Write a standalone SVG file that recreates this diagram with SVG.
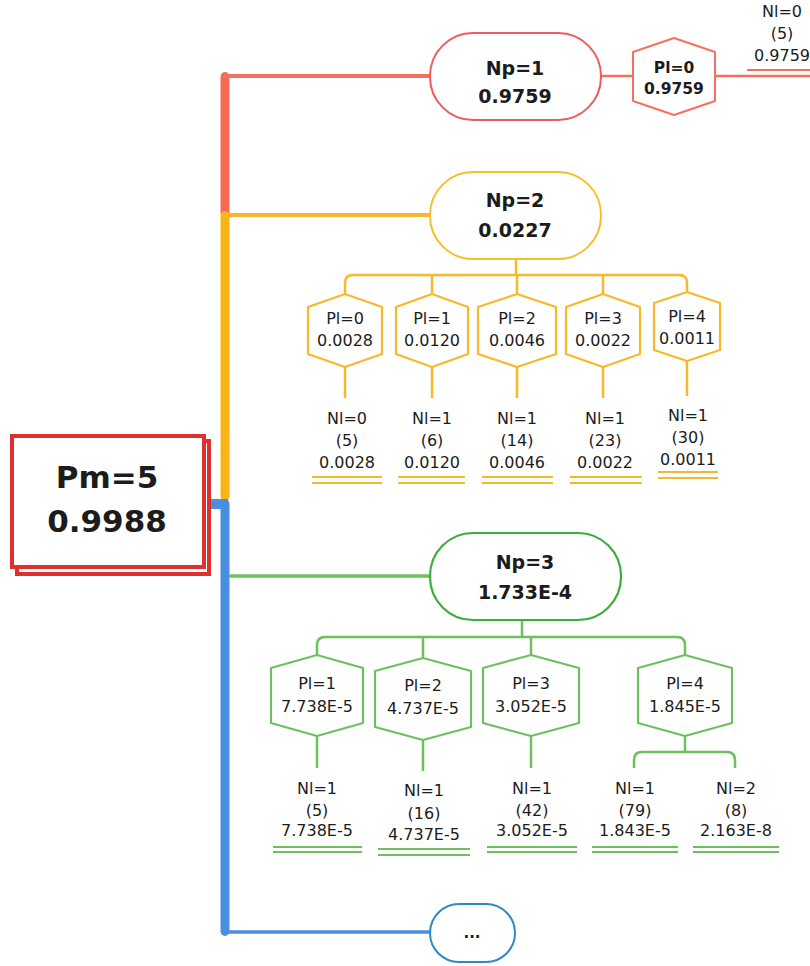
<svg xmlns="http://www.w3.org/2000/svg" width="810" height="966" viewBox="0 0 810 966">
<style>
text{font-family:"DejaVu Sans","Liberation Sans",sans-serif;fill:#1c1c1c;text-anchor:middle}
.b{font-weight:bold;font-size:19px}
.hb{font-weight:bold;font-size:15.5px}
.r{font-size:16px}
.big{font-weight:bold;font-size:31px}
.red{stroke:#f47060;fill:none}
.yel{stroke:#f8b82a;fill:none}
.grn{stroke:#6cc05e;fill:none}
.blu{stroke:#4a8ee0;fill:none}
.nodeR{fill:#fff;stroke:#ec5b5e;stroke-width:2}
.nodeY{fill:#fff;stroke:#f5bf2c;stroke-width:2}
.nodeG{fill:#fff;stroke:#3cae3a;stroke-width:2.2}
.hexR{fill:#fff;stroke:#f47060;stroke-width:2;stroke-linejoin:round}
.hexY{fill:#fff;stroke:#f8b82a;stroke-width:2.2;stroke-linejoin:round}
.hexG{fill:#fff;stroke:#6cc05e;stroke-width:2.2;stroke-linejoin:round}
.ul{stroke-width:2.2}
</style>

<g id="connectors">
  <!-- spine -->
  <rect x="220.5" y="72" width="9" height="146" rx="5" fill="#f76b55"/>
  <path class="red" stroke-width="4" d="M224,76 H431"/>
  <rect x="220.5" y="211" width="9" height="290" rx="5" fill="#fbb416"/>
  <path class="yel" stroke-width="4" d="M224,215 H431"/>
  <rect x="220.5" y="499" width="9" height="437" rx="5" fill="#4a8ee0"/>
  <rect x="206" y="499" width="22" height="10" fill="#4a8ee0"/>
  <path class="blu" stroke-width="3.5" d="M224,932 H431"/>
  <path class="grn" stroke-width="3.5" d="M229,576 H431"/>

  <!-- red branch -->
  <path class="red" stroke-width="2.5" d="M601,76 H633 M715,76 H810"/>
  <path class="red ul" d="M747,70 H810"/>

  <!-- yellow branch -->
  <path class="yel" stroke-width="2.5" d="M516,259 V275 M345,294 V283 Q345,275 353,275 H679 Q687,275 687,283 V292 M432,275 V294 M517,275 V294 M603,275 V294"/>
  <path class="yel" stroke-width="2.5" d="M345,367 V398 M432,367 V398 M517,367 V398 M603,367 V398 M687,361 V396"/>
  <path class="yel ul" d="M312,477 H382 M312,483 H382 M398,477 H465 M398,483 H465 M482,477 H553 M482,483 H553 M570,477 H642 M570,483 H642 M658,472 H718 M658,478 H718"/>

  <!-- green branch -->
  <path class="grn" stroke-width="2.5" d="M522,620 V637 M317,655 V645 Q317,637 325,637 H677 Q685,637 685,645 V655 M423,637 V658 M531,637 V655"/>
  <path class="grn" stroke-width="2.5" d="M317,736 V768 M423,740 V771 M531,736 V768 M685,736 V752 M634,768 V760 Q634,752 642,752 H727 Q735,752 735,760 V768"/>
  <path class="grn ul" d="M273,847 H362 M273,852 H362 M378,849 H470 M378,855 H470 M487,847 H577 M487,852 H577 M592,847 H678 M592,852 H678 M693,847 H779 M693,852 H779"/>
</g>

<g id="pm">
  <rect x="17" y="441" width="192" height="133" fill="#fff" stroke="#e02f2f" stroke-width="4"/>
  <rect x="12" y="436" width="192" height="131" fill="#fff" stroke="#e02f2f" stroke-width="4"/>
  <text class="big" x="107" y="488">Pm=5</text>
  <text class="big" x="107" y="532">0.9988</text>
</g>

<g id="np1">
  <rect class="nodeR" x="430" y="33" width="171" height="87" rx="43"/>
  <text class="b" x="515" y="75">Np=1</text>
  <text class="b" x="515" y="103">0.9759</text>
</g>
<g id="np1-pl0">
  <polygon class="hexR" points="674,38 715,52 715,101 674,115 633,101 633,52"/>
  <text class="hb" x="674" y="73">Pl=0</text>
  <text class="hb" x="674" y="94">0.9759</text>
</g>
<g id="np1-nl0">
  <text class="r" x="782" y="17">Nl=0</text>
  <text class="r" x="782" y="39">(5)</text>
  <text class="r" x="782" y="61">0.9759</text>
</g>

<g id="np2">
  <rect class="nodeY" x="430" y="172" width="171" height="87" rx="43"/>
  <text class="b" x="515" y="207">Np=2</text>
  <text class="b" x="515" y="237">0.0227</text>
</g>
<g id="np2-pl0">
  <polygon class="hexY" points="345,294 382,307 382,354 345,367 308,354 308,307"/>
  <text class="r" x="345" y="324">Pl=0</text>
  <text class="r" x="345" y="346">0.0028</text>
</g>
<g id="np2-pl1">
  <polygon class="hexY" points="432,294 468,307 468,354 432,367 396,354 396,307"/>
  <text class="r" x="432" y="324">Pl=1</text>
  <text class="r" x="432" y="346">0.0120</text>
</g>
<g id="np2-pl2">
  <polygon class="hexY" points="517,294 556,307 556,354 517,367 478,354 478,307"/>
  <text class="r" x="517" y="324">Pl=2</text>
  <text class="r" x="517" y="346">0.0046</text>
</g>
<g id="np2-pl3">
  <polygon class="hexY" points="603,294 640,307 640,354 603,367 566,354 566,307"/>
  <text class="r" x="603" y="324">Pl=3</text>
  <text class="r" x="603" y="346">0.0022</text>
</g>
<g id="np2-pl4">
  <polygon class="hexY" points="687,292 720,303 720,350 687,361 654,350 654,303"/>
  <text class="r" x="687" y="322">Pl=4</text>
  <text class="r" x="687" y="344">0.0011</text>
</g>
<g id="np2-leaf0">
  <text class="r" x="347" y="424">Nl=0</text>
  <text class="r" x="347" y="446">(5)</text>
  <text class="r" x="347" y="468">0.0028</text>
</g>
<g id="np2-leaf1">
  <text class="r" x="432" y="424">Nl=1</text>
  <text class="r" x="432" y="446">(6)</text>
  <text class="r" x="432" y="468">0.0120</text>
</g>
<g id="np2-leaf2">
  <text class="r" x="517" y="424">Nl=1</text>
  <text class="r" x="517" y="446">(14)</text>
  <text class="r" x="517" y="468">0.0046</text>
</g>
<g id="np2-leaf3">
  <text class="r" x="605" y="424">Nl=1</text>
  <text class="r" x="605" y="446">(23)</text>
  <text class="r" x="605" y="468">0.0022</text>
</g>
<g id="np2-leaf4">
  <text class="r" x="688" y="421">Nl=1</text>
  <text class="r" x="688" y="443">(30)</text>
  <text class="r" x="688" y="465">0.0011</text>
</g>

<g id="np3">
  <rect class="nodeG" x="430" y="533" width="191" height="87" rx="43"/>
  <text class="b" x="525" y="569">Np=3</text>
  <text class="b" x="525" y="599">1.733E-4</text>
</g>
<g id="np3-pl1">
  <polygon class="hexG" points="317,655 363,668 363,723 317,736 271,723 271,668"/>
  <text class="r" x="317" y="689">Pl=1</text>
  <text class="r" x="317" y="712">7.738E-5</text>
</g>
<g id="np3-pl2">
  <polygon class="hexG" points="423,658 471,671 471,727 423,740 375,727 375,671"/>
  <text class="r" x="423" y="691">Pl=2</text>
  <text class="r" x="423" y="714">4.737E-5</text>
</g>
<g id="np3-pl3">
  <polygon class="hexG" points="531,655 579,668 579,723 531,736 483,723 483,668"/>
  <text class="r" x="531" y="689">Pl=3</text>
  <text class="r" x="531" y="712">3.052E-5</text>
</g>
<g id="np3-pl4">
  <polygon class="hexG" points="685,655 732,668 732,723 685,736 638,723 638,668"/>
  <text class="r" x="685" y="689">Pl=4</text>
  <text class="r" x="685" y="712">1.845E-5</text>
</g>
<g id="np3-leaf1">
  <text class="r" x="317" y="794">Nl=1</text>
  <text class="r" x="317" y="816">(5)</text>
  <text class="r" x="317" y="836">7.738E-5</text>
</g>
<g id="np3-leaf2">
  <text class="r" x="424" y="796">Nl=1</text>
  <text class="r" x="424" y="819">(16)</text>
  <text class="r" x="424" y="840">4.737E-5</text>
</g>
<g id="np3-leaf3">
  <text class="r" x="532" y="794">Nl=1</text>
  <text class="r" x="532" y="816">(42)</text>
  <text class="r" x="532" y="836">3.052E-5</text>
</g>
<g id="np3-leaf4a">
  <text class="r" x="635" y="794">Nl=1</text>
  <text class="r" x="635" y="816">(79)</text>
  <text class="r" x="635" y="836">1.843E-5</text>
</g>
<g id="np3-leaf4b">
  <text class="r" x="736" y="794">Nl=2</text>
  <text class="r" x="736" y="816">(8)</text>
  <text class="r" x="736" y="836">2.163E-8</text>
</g>

<g id="more">
  <rect x="430" y="904" width="85" height="58" rx="29" fill="#fff" stroke="#2a8ac8" stroke-width="2"/>
  <text x="472" y="938" style="font-weight:bold;font-size:15px">...</text>
</g>
</svg>
